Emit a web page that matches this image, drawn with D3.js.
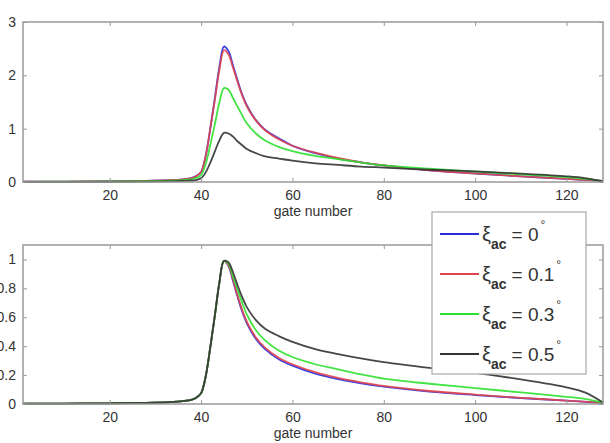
<!DOCTYPE html>
<html>
<head>
<meta charset="utf-8">
<script src="https://cdn.jsdelivr.net/npm/d3@7"></script>
<style>
  body { margin: 0; background: #fff; }
  svg { display: block; font-family: "Liberation Sans", Arial, sans-serif; }
</style>
</head>
<body>
<div id="chart"></div>
<script>
// gate positions where values were read
const gates = [1, 10, 20, 28, 33, 36, 38, 39, 40, 41, 42, 43, 44, 45, 46, 47, 48, 49, 50, 52, 54, 57, 60, 65, 70, 75, 80, 90, 100, 110, 120, 124, 128];

// top panel: absolute values
const topBlue  = [0.005, 0.008, 0.013, 0.02, 0.033, 0.05, 0.077, 0.115, 0.19, 0.49, 1.0, 1.57, 2.16, 2.54,
                  2.45, 2.18, 1.90, 1.64, 1.44, 1.16, 0.98, 0.82, 0.68, 0.54, 0.44, 0.37, 0.31, 0.22, 0.16, 0.105, 0.06, 0.04, 0.02];
const topRed   = [0.005, 0.008, 0.013, 0.02, 0.033, 0.05, 0.075, 0.112, 0.19, 0.49, 0.99, 1.53, 2.10, 2.47,
                  2.39, 2.14, 1.87, 1.62, 1.42, 1.15, 0.97, 0.80, 0.68, 0.55, 0.45, 0.37, 0.31, 0.22, 0.16, 0.107, 0.06, 0.04, 0.02];
const topGreen = [0.004, 0.005, 0.009, 0.014, 0.023, 0.036, 0.053, 0.08, 0.13, 0.34, 0.69, 1.08, 1.49, 1.76,
                  1.73, 1.57, 1.41, 1.25, 1.10, 0.91, 0.78, 0.66, 0.58, 0.49, 0.43, 0.365, 0.31, 0.25, 0.196, 0.142, 0.09, 0.06, 0.02];
const topBlack = [0.002, 0.003, 0.005, 0.007, 0.012, 0.019, 0.028, 0.042, 0.07, 0.18, 0.36, 0.57, 0.78, 0.92,
                  0.91, 0.85, 0.76, 0.69, 0.62, 0.54, 0.48, 0.44, 0.40, 0.35, 0.32, 0.29, 0.27, 0.23, 0.20, 0.158, 0.107, 0.074, 0.01];

// bottom panel: normalised values
const botBlue  = [0.002, 0.003, 0.005, 0.008, 0.013, 0.02, 0.03, 0.045, 0.075, 0.19, 0.39, 0.61, 0.84, 0.99,
                  0.955, 0.85, 0.74, 0.64, 0.56, 0.45, 0.38, 0.31, 0.265, 0.21, 0.172, 0.143, 0.12, 0.086, 0.062, 0.041, 0.023, 0.015, 0.008];
const botRed   = [0.002, 0.003, 0.005, 0.008, 0.013, 0.02, 0.03, 0.045, 0.075, 0.19, 0.39, 0.61, 0.84, 0.99,
                  0.96, 0.86, 0.75, 0.65, 0.57, 0.46, 0.39, 0.32, 0.275, 0.22, 0.18, 0.15, 0.125, 0.09, 0.065, 0.043, 0.024, 0.016, 0.008];
const botGreen = [0.002, 0.003, 0.005, 0.008, 0.013, 0.02, 0.03, 0.045, 0.075, 0.19, 0.39, 0.61, 0.84, 0.99,
                  0.97, 0.88, 0.79, 0.70, 0.62, 0.51, 0.44, 0.37, 0.325, 0.275, 0.24, 0.205, 0.175, 0.14, 0.11, 0.08, 0.05, 0.035, 0.01];
const botBlack = [0.002, 0.003, 0.005, 0.008, 0.013, 0.02, 0.03, 0.045, 0.075, 0.19, 0.39, 0.61, 0.84, 0.99,
                  0.98, 0.91, 0.82, 0.74, 0.67, 0.58, 0.52, 0.47, 0.43, 0.38, 0.345, 0.315, 0.29, 0.25, 0.215, 0.17, 0.115, 0.08, 0.01];

const seriesNames = ["0", "0.1", "0.3", "0.5"];
const seriesColors = ["#2b2bdc", "#e0454f", "#2ee02e", "#333333"];

const xTicks = [20, 40, 60, 80, 100, 120];
const topYTicks = [0, 1, 2, 3];
const botYTicks = [0, 0.2, 0.4, 0.6, 0.8, 1];

const width = 610, height = 443;

const svg = d3.select('#chart').append('svg')
  .attr('width', width)
  .attr('height', height);

const x = d3.scaleLinear().domain([1, 128]).range([23, 603]);

function drawPanel(yScale, yTicks, series, yFmt) {
  const [yb, yt] = yScale.range();
  const g = svg.append('g');

  const line = d3.line()
    .x((d, i) => x(gates[i]))
    .y(d => yScale(d))
    .curve(d3.curveCatmullRom.alpha(0.5));

  series.forEach((s, i) => {
    g.append('path')
      .datum(s)
      .attr('d', line)
      .attr('fill', 'none')
      .attr('stroke', seriesColors[i])
      .attr('stroke-width', 1.8)
      .attr('stroke-opacity', 0.9);
  });

  // axes with inward ticks on all four sides
  const axisStyle = sel => {
    sel.select('.domain').remove();
    sel.selectAll('line').attr('stroke', '#999').attr('stroke-width', 1);
    sel.selectAll('text').attr('fill', '#333').style('font-size', '14px');
  };

  g.append('g')
    .attr('transform', `translate(0,${yb})`)
    .call(d3.axisBottom(x).tickValues(xTicks).tickSizeInner(-4).tickPadding(8))
    .call(axisStyle);
  g.append('g')
    .attr('transform', `translate(0,${yt})`)
    .call(d3.axisTop(x).tickValues(xTicks).tickSizeInner(-4).tickFormat(''))
    .call(axisStyle);
  g.append('g')
    .attr('transform', `translate(${x.range()[0]},0)`)
    .call(d3.axisLeft(yScale).tickValues(yTicks).tickFormat(yFmt).tickSizeInner(-4).tickPadding(7))
    .call(axisStyle);
  g.append('g')
    .attr('transform', `translate(${x.range()[1]},0)`)
    .call(d3.axisRight(yScale).tickValues(yTicks).tickFormat('').tickSizeInner(-4))
    .call(axisStyle);

  g.append('rect')
    .attr('x', x.range()[0])
    .attr('y', yt)
    .attr('width', x.range()[1] - x.range()[0])
    .attr('height', yb - yt)
    .attr('fill', 'none')
    .attr('stroke', '#999')
    .attr('stroke-width', 1.5);

  g.append('text')
    .attr('x', (x.range()[0] + x.range()[1]) / 2)
    .attr('y', yb + 34)
    .attr('text-anchor', 'middle')
    .attr('fill', '#333')
    .style('font-size', '14px')
    .text('gate number');
}

const yTop = d3.scaleLinear().domain([0, 3]).range([182, 22]);
const yBot = d3.scaleLinear().domain([0, 1.1]).range([404, 245]);

drawPanel(yTop, topYTicks, [topBlue, topRed, topGreen, topBlack], d3.format('d'));
drawPanel(yBot, botYTicks, [botBlue, botRed, botGreen, botBlack], d => d === 0 || d === 1 ? String(d) : d3.format('.1f')(d));

// legend
const legend = svg.append('g');
legend.append('rect')
  .attr('x', 432).attr('y', 212)
  .attr('width', 154).attr('height', 162)
  .attr('fill', '#fff')
  .attr('stroke', '#aaa')
  .attr('stroke-width', 1.2);

seriesNames.forEach((name, i) => {
  const cy = 234 + i * 40;
  legend.append('line')
    .attr('x1', 440).attr('x2', 479)
    .attr('y1', cy).attr('y2', cy)
    .attr('stroke', seriesColors[i])
    .attr('stroke-width', 1.8);
  const t = legend.append('text')
    .attr('x', 482)
    .attr('y', cy + 7)
    .attr('fill', '#333')
    .style('font-size', '20px');
  t.append('tspan').text('ξ');
  t.append('tspan').attr('dy', 8).style('font-size', '14px').style('font-weight', 'bold').text('ac');
  t.append('tspan').attr('dy', -8).attr('dx', 5).style('font-size', '19px').text('= ' + name);
  t.append('tspan').attr('dy', -12).attr('dx', 2).style('font-size', '12px').text('°');
});
</script>
</body>
</html>
